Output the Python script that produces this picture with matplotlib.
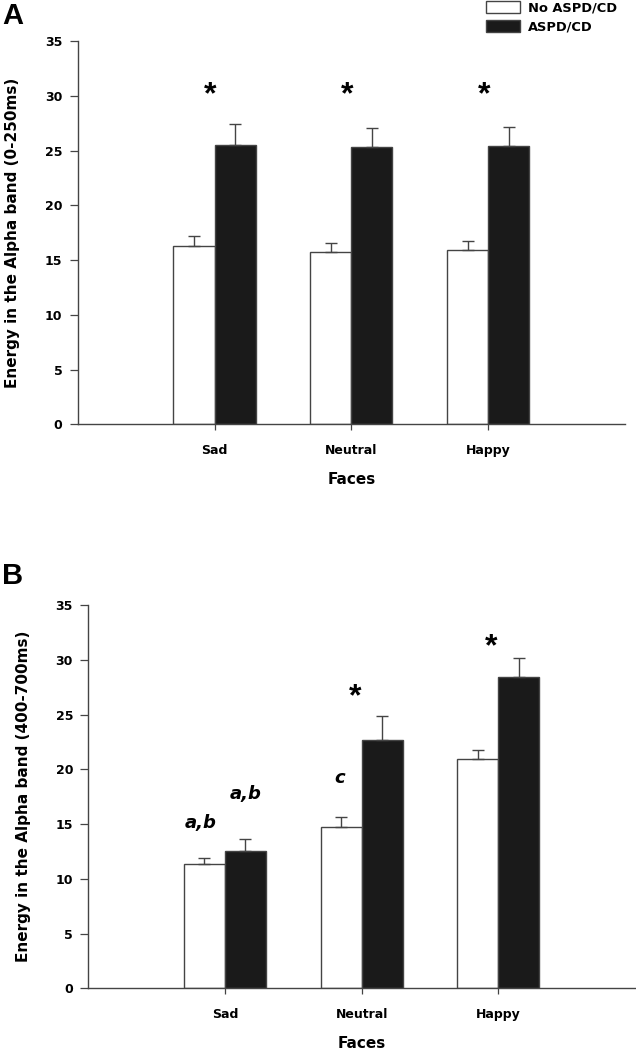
import matplotlib
matplotlib.use('Agg')
import matplotlib.pyplot as plt
from matplotlib.patches import Patch
import numpy as np

plt.rcParams['font.family'] = ['DejaVu Sans']
plt.rcParams['font.weight'] = 'bold'

# ── data ─────────────────────────────────────────────────────────────────────
FACES = ['Sad', 'Neutral', 'Happy']
GROUPS = ['No ASPD/CD', 'ASPD/CD']

A_NO = [16.3, 15.7, 15.9]
A_NO_ERR = [0.94, 0.91, 0.88]
A_YES = [25.5, 25.3, 25.4]
A_YES_ERR = [1.92, 1.8, 1.76]
A_STARS = [30.1, 30.1, 30.1]

B_NO = [11.35, 14.7, 20.9]
B_NO_ERR = [0.58, 0.97, 0.85]
B_YES = [12.5, 22.7, 28.4]
B_YES_ERR = [1.12, 2.14, 1.76]
# (label, category index, side offset, y)
B_MARKS = [('a,b', 0, -0.18, 15.1), ('a,b', 0, 0.15, 17.7), ('c', 1, -0.16, 19.2),
           ('*', 1, -0.05, 26.6), ('*', 2, -0.05, 31.1)]

YTICKS = [0, 5, 10, 15, 20, 25, 30, 35]

W, H = 636, 1050
EDGE = '#444444'
BLACK = '#1a1a1a'
BW = 0.3


def draw(ax, no, no_err, yes, yes_err, ylabel):
    x = np.arange(1, len(FACES) + 1)
    ax.bar(x - BW / 2, no, BW, color='white', edgecolor=EDGE, linewidth=1.0, zorder=2)
    ax.bar(x + BW / 2, yes, BW, color=BLACK, edgecolor=EDGE, linewidth=1.0, zorder=2)
    ax.errorbar(x - BW / 2, no, yerr=[np.zeros(len(no)), no_err], fmt='none',
                ecolor=EDGE, elinewidth=1.0, capsize=4, capthick=1.0, zorder=3)
    ax.errorbar(x + BW / 2, yes, yerr=[np.zeros(len(yes)), yes_err], fmt='none',
                ecolor=EDGE, elinewidth=1.0, capsize=4, capthick=1.0, zorder=3)
    ax.set_xlim(0, 4)
    ax.set_ylim(0, 35)
    ax.set_yticks(YTICKS)
    ax.set_xticks(x)
    ax.set_xticklabels(FACES, fontsize=9, fontweight='bold')
    ax.tick_params(axis='y', direction='out', length=6, width=0.9, color=EDGE,
                   labelsize=9, pad=5)
    ax.tick_params(axis='x', direction='out', length=4, width=0.9, color=EDGE,
                   labelsize=9, pad=10)
    for lab in ax.get_yticklabels():
        lab.set_fontweight('bold')
    for s in ['top', 'right']:
        ax.spines[s].set_visible(False)
    for s in ['left', 'bottom']:
        ax.spines[s].set_color(EDGE)
        ax.spines[s].set_linewidth(1.0)
    ax.set_ylabel(ylabel, fontsize=11, fontweight='bold')
    ax.set_xlabel('Faces', fontsize=11, fontweight='bold')
    ax.xaxis.set_label_coords(0.5, -0.125)


def star(ax, x, y):
    ax.text(x, y, '*', ha='center', va='center', fontsize=23, fontweight='bold',
            style='normal', family=['Liberation Sans', 'DejaVu Sans'])


fig = plt.figure(figsize=(W / 100, H / 100), dpi=100)

# panel A
axA = fig.add_axes([77.7 / W, 1 - 424.3 / H, (625 - 77.7) / W, 383 / H])
draw(axA, A_NO, A_NO_ERR, A_YES, A_YES_ERR, 'Energy in the Alpha band (0-250ms)')
axA.yaxis.set_label_coords(-0.105, 0.5)
for i, y in enumerate(A_STARS):
    star(axA, i + 1 - 0.03, y)

# panel B
axB = fig.add_axes([88.3 / W, 1 - 988.3 / H, (635 - 88.3) / W, 383.3 / H])
draw(axB, B_NO, B_NO_ERR, B_YES, B_YES_ERR, 'Energy in the Alpha band (400-700ms)')
axB.yaxis.set_label_coords(-0.104, 0.5)
for lab, i, dx, y in B_MARKS:
    if lab == '*':
        star(axB, i + 1 + dx, y)
    else:
        axB.text(i + 1 + dx, y, lab, ha='center', va='center', fontsize=13,
                 fontweight='bold', style='italic')

fig.text(2 / W, 1 - 2 / H, 'A', ha='left', va='top', fontsize=21, fontweight='bold',
         family=['Liberation Sans', 'DejaVu Sans'])
fig.text(2 / W, 1 - 562 / H, 'B', ha='left', va='top', fontsize=21, fontweight='bold',
         family=['Liberation Sans', 'DejaVu Sans'])

handles = [Patch(facecolor='white', edgecolor=EDGE, linewidth=1.0),
           Patch(facecolor=BLACK, edgecolor=EDGE, linewidth=1.0)]
fig.legend(handles, GROUPS, loc='upper left', bbox_to_anchor=(486 / W, 1 - 1 / H),
           frameon=False, handlelength=2.6, handleheight=1.0,
           handletextpad=0.65, labelspacing=0.45, borderpad=0, borderaxespad=0,
           prop={'weight': 'bold', 'size': 9.4})

fig.savefig('out.png', dpi=100)
